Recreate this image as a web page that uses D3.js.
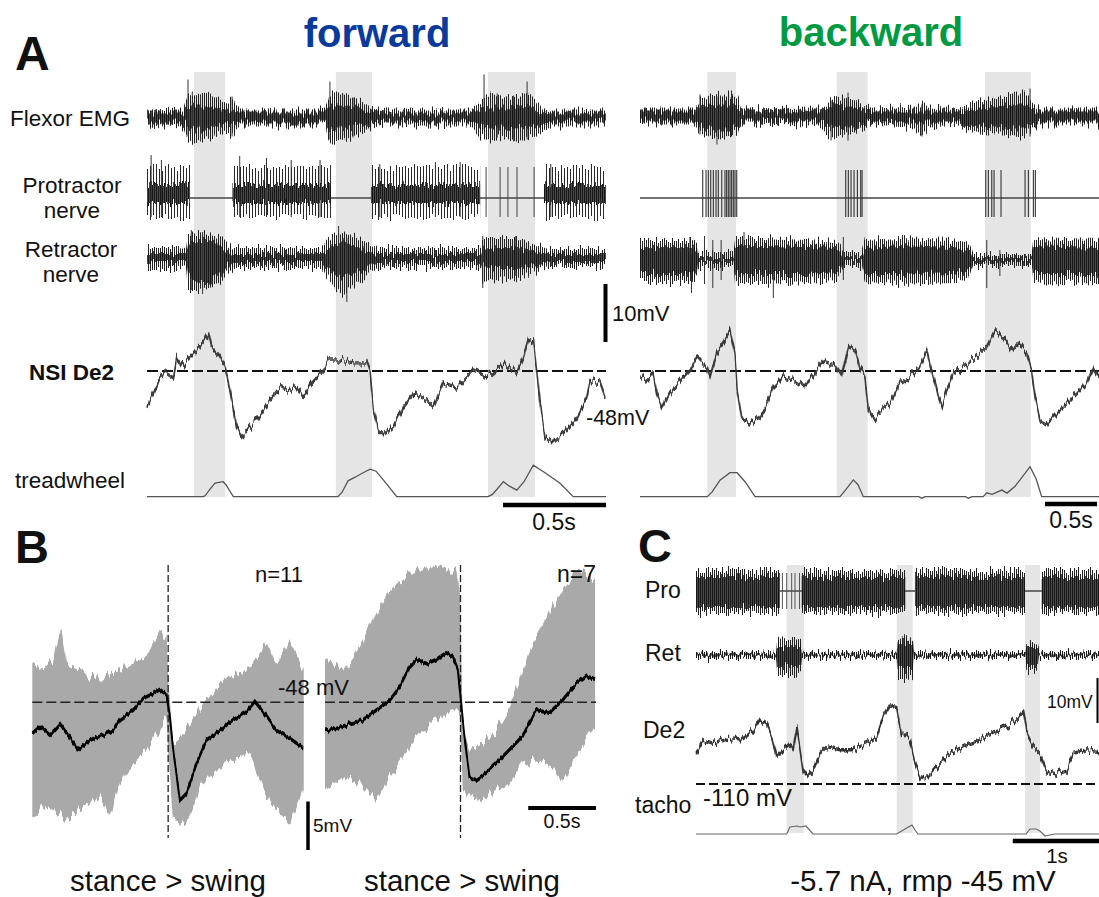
<!DOCTYPE html>
<html><head><meta charset="utf-8">
<script src="https://cdn.jsdelivr.net/npm/d3@7"></script>
<style>body{margin:0;background:#fff}svg{display:block}text{font-family:"Liberation Sans",Arial,sans-serif;fill:#111}</style>
</head><body><svg id="c" width="1099" height="897"></svg>
<script>
// ===== DATA =====
// Panel A, forward (time in s, membrane potential in mV, nerve/EMG envelopes in a.u. [t, up, down])
const fwdStance = [[0.228,0.379],[0.917,1.092],[1.655,1.883]];
const fwdEmgOuter = [[0,4,4],[0.175,4.5,5],[0.199,12,12],[0.233,11,13],[0.282,12,11],[0.330,10,10],[0.379,7,8],[0.413,10,9.5],[0.451,4,4],[0.864,4,4],[0.888,12,14],[0.937,12,12],[1.010,10,10],[1.058,7,7],[1.092,5,5],[1.155,4,4],[1.568,4,4],[1.617,8,10],[1.665,12,11],[1.738,10,10],[1.811,11,12],[1.859,12,10],[1.908,6,7],[1.956,4,4],[2.228,4,4]];
const fwdEmgInner = [[0,2.5,2.5],[0.175,2.5,2.5],[0.199,5,5],[0.233,6,6],[0.282,6,6],[0.330,5,5],[0.379,3.5,3.5],[0.451,2.5,2.5],[0.864,2.5,2.5],[0.888,6,6],[0.937,6,6],[1.010,5,5],[1.092,3,3],[1.155,2,2],[1.568,2,2],[1.617,4,4],[1.665,5,5],[1.738,5,5],[1.811,5.5,5.5],[1.859,6,5],[1.908,3,3],[1.956,2,2],[2.228,2,2]];
const fwdEmgSpikes = [[0.199,19,9.5],[0.22,13,8],[0.26,11,12],[0.413,10.5,9.5],[0.888,18,11],[0.95,12,9],[1.0,10,10],[1.636,21.5,6],[1.70,12,10],[1.78,11,12],[1.845,18,11]];
const fwdProBursts = [[0,0.209],[0.415,0.893],[1.087,1.617],[1.927,2.228]];
const fwdProSparse = [1.646,1.714,1.752,1.796,1.879];
const fwdProTall = [[0.02,21.5],[0.07,19],[0.45,21],[0.58,20],[0.70,19],[0.84,19],[1.13,17],[1.40,18],[1.52,18],[1.96,17]];
const fwdRetOuter = [[0,5.5,6],[0.15,5.5,6],[0.19,5,5],[0.199,12.5,16],[0.25,13,16],[0.30,12,15],[0.35,11,14],[0.388,7,8],[0.42,5,5],[0.85,5,5],[0.898,12,14],[0.95,13,19],[1.01,11,14],[1.083,6,7],[1.12,5,5],[1.62,5,5],[1.626,10,12],[1.70,10,11],[1.80,10,10],[1.898,6,6],[1.95,4.5,4.5],[2.228,4.5,4.5]];
const fwdRetInner = [[0,2,2],[0.19,2,2],[0.199,7,9],[0.25,9,12],[0.30,9,12],[0.35,7,9],[0.388,3,4],[0.42,2,2],[0.85,2,2],[0.898,6,8],[0.95,8,10],[1.01,6,8],[1.083,3,3],[1.12,2,2],[1.62,2,2],[1.626,4,4],[1.70,5,5],[1.80,5,5],[1.898,3,3],[1.95,2,2],[2.228,2,2]];
const fwdRetSpikes = [[0.215,14,16],[0.27,13,18],[0.93,16,12],[0.97,10,22],[1.63,11,15],[1.79,11,9]];
const fwdDe2 = [[0.000,-54.2],[0.031,-51.8],[0.063,-49.0],[0.096,-48.3],[0.128,-49.0],[0.144,-45.6],[0.176,-47.3],[0.209,-45.6],[0.241,-44.4],[0.273,-43.0],[0.298,-41.4],[0.314,-43.9],[0.354,-45.6],[0.379,-47.3],[0.390,-49.0],[0.411,-53.0],[0.435,-57.7],[0.460,-59.6],[0.500,-57.7],[0.549,-55.9],[0.597,-53.0],[0.646,-50.8],[0.678,-51.3],[0.727,-50.8],[0.759,-52.5],[0.808,-49.6],[0.848,-48.3],[0.880,-46.1],[0.937,-46.1],[1.002,-46.6],[1.066,-46.6],[1.083,-48.3],[1.099,-54.7],[1.123,-58.2],[1.147,-59.0],[1.196,-57.7],[1.244,-54.2],[1.293,-51.8],[1.358,-53.0],[1.390,-54.2],[1.439,-50.1],[1.504,-50.8],[1.584,-47.8],[1.649,-49.0],[1.730,-46.6],[1.795,-48.3],[1.827,-45.6],[1.851,-42.7],[1.876,-43.0],[1.892,-47.8],[1.908,-53.5],[1.932,-59.4],[1.965,-60.4],[2.021,-58.7],[2.086,-55.9],[2.135,-52.5],[2.151,-49.6],[2.199,-50.1],[2.223,-52.5]];
const fwdTread = [[0,0],[0.272,0],[0.282,0.3],[0.306,2.5],[0.330,4.5],[0.370,5.0],[0.383,4],[0.419,0],[0.927,0],[0.947,1.5],[0.976,5.3],[1.010,6.5],[1.049,8],[1.083,9.2],[1.112,8.5],[1.160,4.5],[1.212,0],[1.655,0],[1.675,0.7],[1.699,2.5],[1.730,5],[1.757,3.6],[1.795,2.2],[1.830,5],[1.875,10.5],[1.932,8.0],[2.005,4.5],[2.069,0],[2.228,0]];

// Panel A, backward
const bwdStance = [[0.647,0.923],[1.891,2.189],[3.317,3.757]];
const bwdEmgOuter = [[0,4,4],[0.529,4,4],[0.577,9,9],[0.673,10,10],[0.769,11,11],[0.865,11,10],[0.933,10,8],[0.981,4,4],[1.731,4.5,4.5],[1.798,6,9],[1.875,11,11],[1.971,9,9],[2.067,8,8],[2.183,5,5],[2.260,4,4],[2.644,5,6],[2.712,7,10],[2.788,5,5],[3.077,4,4],[3.125,6,6],[3.269,8,8],[3.413,9,9],[3.510,10,9],[3.606,12,10],[3.702,12,11],[3.769,7,6],[3.846,4,4],[4.413,4,4]];
const bwdEmgInner = [[0,2.5,2.5],[0.529,2.5,2.5],[0.577,5,5],[0.673,6,6],[0.769,6,6],[0.865,6,6],[0.933,5,5],[0.981,2.5,2.5],[1.731,2.5,2.5],[1.798,4,4],[1.875,6,6],[1.971,5,5],[2.067,5,5],[2.183,3,3],[2.260,2.5,2.5],[3.077,2.5,2.5],[3.125,3.5,3.5],[3.269,4.5,4.5],[3.413,5,5],[3.510,5.5,5.5],[3.606,6,6],[3.702,6,6],[3.769,4,4],[3.846,2.5,2.5],[4.413,2.5,2.5]];
const bwdEmgSpikes = [[0.577,11,9],[0.74,10,14],[0.88,13,10],[1.837,8,12],[2.00,12,12],[2.71,6,10],[3.60,12,8],[3.75,14,10]];
const bwdProSpikes = [0.603,0.635,0.657,0.680,0.705,0.731,0.753,0.786,0.817,0.833,0.849,0.865,0.881,0.897,0.913,0.930,1.978,2.003,2.029,2.058,2.090,2.122,2.135,3.324,3.349,3.382,3.404,3.471,3.702,3.734,3.782,3.801];
const bwdRetOuter = [[0,10,11],[0.50,10,11],[0.55,9,10],[0.561,4,4],[0.90,4,4],[0.913,11,12],[1.2,11,12],[1.6,10,11],[1.9,9,10],[1.955,4,4],[2.131,4,4],[2.16,10,11],[2.5,11,12],[3.0,10,11],[3.17,8,8],[3.205,3,3],[3.766,3,3],[3.78,11,12],[4.413,10,11]];
const bwdRetInner = [[0,6,7],[0.50,6,7],[0.55,5,6],[0.561,1,1],[0.90,1,1],[0.913,7,7],[1.2,7,7],[1.6,6.5,7],[1.9,6,6],[1.955,1,1],[2.131,1,1],[2.16,6,7],[2.5,7,7],[3.0,6,6],[3.17,5,5],[3.205,1,1],[3.766,1,1],[3.78,7,7],[4.413,6,7]];
const bwdRetSpikes = [[0.48,11.5,3],[0.495,3,16.5],[0.62,12,12],[0.70,10,14],[0.78,10,10],[1.0,14,8],[1.282,6,19],[1.955,11.5,10],[3.334,10,14],[3.46,5,8]];
const bwdDe2 = [[0,-49.0],[0.064,-49.8],[0.128,-48.4],[0.161,-51.8],[0.209,-54.2],[0.288,-51.8],[0.385,-49.6],[0.481,-47.8],[0.545,-45.5],[0.641,-47.3],[0.673,-49.0],[0.738,-44.9],[0.801,-43.2],[0.865,-40.9],[0.913,-44.9],[0.936,-51.8],[0.978,-56.4],[1.058,-57.0],[1.154,-55.9],[1.218,-53.6],[1.282,-50.7],[1.378,-49.0],[1.474,-49.6],[1.570,-50.7],[1.666,-49.0],[1.763,-46.1],[1.859,-46.7],[1.939,-49.0],[2.003,-43.8],[2.067,-44.4],[2.115,-47.3],[2.163,-49.0],[2.195,-54.7],[2.243,-56.4],[2.339,-54.2],[2.404,-53.6],[2.500,-50.1],[2.596,-49.0],[2.692,-47.3],[2.757,-44.4],[2.788,-46.7],[2.820,-49.0],[2.868,-52.4],[2.901,-54.2],[2.949,-51.3],[3.013,-48.4],[3.109,-47.3],[3.238,-45.5],[3.334,-43.8],[3.413,-40.9],[3.493,-42.1],[3.574,-44.4],[3.654,-43.2],[3.718,-44.9],[3.766,-47.8],[3.798,-52.4],[3.846,-56.4],[3.910,-57.0],[4.007,-55.3],[4.103,-53.6],[4.199,-51.8],[4.296,-50.1],[4.359,-47.3],[4.413,-49.0]];
const bwdTread = [[0,0],[0.647,0],[0.692,1.5],[0.769,5.5],[0.865,8.0],[0.933,8.0],[1.010,5],[1.106,0],[1.923,0],[1.971,2],[2.051,5.6],[2.096,4],[2.147,0],[2.68,0],[2.709,-0.5],[2.74,0],[3.13,0],[3.157,-0.5],[3.192,0],[3.30,0],[3.334,1.3],[3.385,0.8],[3.478,2.2],[3.529,1.2],[3.606,3.5],[3.654,5.6],[3.750,10],[3.808,6],[3.862,0],[4.413,0]];

// Panel B (time relative to stance>swing transition, s; mV)
const bLeftMean = [[-1.000,-51.2],[-0.943,-50.5],[-0.870,-51.4],[-0.796,-50.2],[-0.747,-51.2],[-0.662,-52.9],[-0.576,-51.9],[-0.502,-51.5],[-0.404,-50.9],[-0.355,-49.8],[-0.257,-48.8],[-0.184,-47.6],[-0.110,-47.1],[-0.061,-46.7],[-0.012,-47.2],[0.013,-49.5],[0.037,-52.9],[0.086,-58.1],[0.135,-57.4],[0.209,-54.3],[0.282,-51.9],[0.380,-50.9],[0.478,-49.8],[0.576,-49.0],[0.638,-47.9],[0.699,-49.0],[0.797,-50.9],[0.895,-51.7],[0.993,-52.7]];
const bLeftRange = [[-1.000,-43.9,-60.1],[-0.919,-44.7,-58.6],[-0.846,-43.6,-59.1],[-0.784,-40.5,-59.6],[-0.747,-44.0,-60.1],[-0.625,-45.0,-58.8],[-0.502,-45.7,-57.7],[-0.429,-44.9,-59.8],[-0.355,-44.7,-56.4],[-0.257,-44.0,-54.3],[-0.159,-43.3,-52.9],[-0.061,-40.5,-50.9],[-0.012,-41.6,-49.5],[0.003,-46.4,-53.9],[0.037,-52.2,-60.1],[0.135,-50.9,-60.5],[0.233,-48.5,-57.0],[0.356,-46.7,-55.0],[0.478,-45.0,-53.9],[0.601,-44.7,-53.3],[0.724,-41.9,-57.7],[0.797,-44.0,-59.1],[0.895,-41.6,-60.5],[0.998,-44.7,-57.0]];
const bRightMean = [[-1.000,-50.9],[-0.914,-50.7],[-0.816,-50.2],[-0.718,-49.8],[-0.619,-48.8],[-0.522,-47.8],[-0.449,-46.4],[-0.375,-44.3],[-0.326,-43.6],[-0.252,-44.0],[-0.179,-43.6],[-0.105,-42.9],[-0.057,-43.3],[-0.020,-44.6],[0.005,-48.1],[0.029,-51.5],[0.066,-55.7],[0.115,-56.0],[0.189,-55.3],[0.262,-54.3],[0.360,-52.9],[0.458,-51.5],[0.557,-48.8],[0.654,-49.1],[0.752,-47.8],[0.851,-46.1],[0.924,-45.3],[0.993,-45.6]];
const bRightRange = [[-1.000,-43.3,-57.0],[-0.865,-44.7,-55.7],[-0.743,-42.3,-56.4],[-0.620,-38.8,-58.1],[-0.522,-36.4,-55.7],[-0.424,-35.4,-53.6],[-0.326,-34.0,-51.5],[-0.228,-34.0,-50.2],[-0.130,-34.4,-49.5],[-0.032,-34.4,-48.8],[-0.002,-37.1,-49.5],[0.017,-50.9,-57.0],[0.066,-52.9,-57.7],[0.164,-52.2,-58.1],[0.262,-50.9,-57.0],[0.360,-48.5,-56.4],[0.458,-44.7,-54.3],[0.557,-41.2,-53.9],[0.654,-38.8,-54.3],[0.752,-36.4,-56.4],[0.851,-34.4,-53.6],[0.993,-35.4,-50.5]];

// Panel C
const cStance = [[1.008,1.2],[2.23,2.408],[3.656,3.822]];
const cProBursts = [[0,0.933],[1.174,2.326],[2.433,3.656],[3.841,4.478]];
const cProGapSpikes = [0.96,1.008,1.063,1.1,1.15];
const cRetOuter = [[0,1.5,1.5],[0.89,1.5,1.5],[0.9,7.5,10],[1.0,8,10],[1.1,8,10],[1.17,7,9],[1.18,1.5,1.5],[2.23,1.5,1.5],[2.24,8.5,12.5],[2.33,9,12.5],[2.41,8,11],[2.42,1.5,1.5],[3.66,1.5,1.5],[3.67,6,8.5],[3.74,6,8.5],[3.80,5,7],[3.81,1.5,1.5],[4.478,1.5,1.5]];
const cRetInner = [[0,0.7,0.7],[0.89,0.7,0.7],[0.9,4,5],[1.17,4,5],[1.18,0.7,0.7],[2.23,0.7,0.7],[2.24,6,7],[2.41,6,7],[2.42,0.7,0.7],[3.66,0.7,0.7],[3.67,4,5],[3.80,4,5],[3.81,0.7,0.7],[4.478,0.7,0.7]];
const cDe2 = [[0,-103.2],[0.081,-100.2],[0.192,-101.0],[0.341,-99.8],[0.489,-100.2],[0.637,-98.0],[0.711,-95.4],[0.786,-96.5],[0.841,-99.5],[0.897,-103.9],[0.970,-102.4],[1.044,-101.0],[1.081,-102.4],[1.119,-97.6],[1.156,-102.4],[1.192,-107.6],[1.230,-108.4],[1.303,-106.9],[1.378,-103.2],[1.452,-101.7],[1.600,-102.4],[1.748,-102.4],[1.897,-101.0],[2.008,-99.5],[2.081,-95.0],[2.156,-92.4],[2.230,-92.8],[2.286,-98.7],[2.378,-100.2],[2.414,-103.9],[2.489,-108.4],[2.563,-108.7],[2.674,-106.5],[2.822,-103.2],[3.008,-101.3],[3.156,-100.2],[3.303,-98.7],[3.452,-97.3],[3.563,-95.8],[3.637,-93.9],[3.674,-98.7],[3.748,-101.7],[3.822,-103.2],[3.897,-106.9],[4.008,-107.6],[4.119,-106.9],[4.192,-103.2],[4.341,-102.4],[4.478,-102.8]];
const cTacho = [[0,0],[1.008,0],[1.044,3.5],[1.122,4],[1.156,3.5],[1.222,4],[1.3,0],[2.230,0],[2.322,2.5],[2.4,4.5],[2.433,2],[2.467,0],[3.667,0],[3.711,2.5],[3.778,2.5],[3.822,1.5],[3.878,-1],[3.933,-0.5],[3.989,0],[4.478,0]];

// ===== DRAWING =====
const svg = d3.select('#c');
const defs = svg.append('defs');
function pattern(id, w, col, bg){
  const p = defs.append('pattern').attr('id',id).attr('patternUnits','userSpaceOnUse').attr('width',w).attr('height',10);
  if (bg) p.append('rect').attr('width',w).attr('height',10).attr('fill',bg);
  p.append('rect').attr('width',1).attr('height',10).attr('fill',col);
}
pattern('spk', 2, '#222');
pattern('spk3', 3, '#2a2a2a');
pattern('spkD', 2, '#161616', '#4a4a4a');
// rendering texture: vertical jitter of strokes / band edges (visual noise of raw recordings)
function jitter(id, fx, scale, dil){
  const f = defs.append('filter').attr('id',id).attr('filterUnits','userSpaceOnUse')
    .attr('x',0).attr('y',0).attr('width',1099).attr('height',897)
    .attr('color-interpolation-filters','sRGB');
  f.append('feTurbulence').attr('type','fractalNoise').attr('baseFrequency',fx+' 0.02')
    .attr('numOctaves',1).attr('seed',7).attr('result','n');
  const ct = f.append('feComponentTransfer').attr('in','n').attr('result','n2');
  ct.append('feFuncR').attr('type','linear').attr('slope',0).attr('intercept',0.5);
  f.append('feDisplacementMap').attr('in','SourceGraphic').attr('in2','n2').attr('scale',scale)
    .attr('xChannelSelector','R').attr('yChannelSelector','G').attr('result','d');
  if (dil) f.append('feMorphology').attr('in','d').attr('operator','dilate').attr('radius','0 '+dil);
}
jitter('jBand', 0.6, 18, 0);
jitter('jLine', 0.45, 15, 1);
jitter('jGray', 0.35, 22, 0);
jitter('jMean', 0.5, 6, 0.5);

const GRAYBAND = '#e5e5e5';
const ampScale = d3.scaleLinear().domain([0,10]).range([0,20]); // a.u. -> px
function rowScale(yc){ return d3.scaleLinear().domain([-10,10]).range([yc+ampScale(10), yc-ampScale(10)]); }

function envBand(g, x, y, env, fill){
  g.append('path').datum(env)
    .attr('d', d3.area().x(d=>x(d[0])).y0(d=>y(-d[2])).y1(d=>y(d[1])))
    .attr('fill', fill);
}
function spikeLines(g, x, y, arr, col, w){
  g.selectAll(null).data(arr).enter().append('line')
    .attr('x1',d=>x(d[0])).attr('x2',d=>x(d[0]))
    .attr('y1',d=>y(d[1])).attr('y2',d=>y(-d[2]))
    .attr('stroke',col).attr('stroke-width',w||1);
}
function hline(g, x0, x1, y, col, w){
  return g.append('line').attr('x1',x0).attr('x2',x1).attr('y1',y).attr('y2',y).attr('stroke',col).attr('stroke-width',w);
}
function txt(x, y, s, size, opts){
  opts = opts || {};
  const t = svg.append('text').attr('x',x).attr('y',y).text(s).attr('font-size',size);
  if (opts.anchor) t.attr('text-anchor',opts.anchor);
  if (opts.bold) t.attr('font-weight','bold');
  if (opts.fill) t.style('fill',opts.fill);
  return t;
}
function vtrace(g, x, y, data, col){
  g.append('path').datum(data)
    .attr('d', d3.line().x(d=>x(d[0])).y(d=>y(d[1])))
    .attr('fill','none').attr('stroke',col).attr('stroke-width',1.4)
    .attr('filter','url(#jLine)');
}

// ---------- Panel A ----------
const yA = d3.scaleLinear().domain([-48,-38]).range([371,313]);
const yTread = d3.scaleLinear().domain([0,10]).range([496.7,466.7]);
const rowEmg = rowScale(117.5), rowPro = rowScale(198), rowRet = rowScale(258);
const rowEmgB = rowScale(116.5), rowProB = rowScale(198), rowRetB = rowScale(260);

function panelA(x, stance, opts){
  const g = svg.append('g');
  g.selectAll(null).data(stance).enter().append('rect')
    .attr('x',d=>x(d[0])).attr('width',d=>x(d[1])-x(d[0]))
    .attr('y',72).attr('height',425).attr('fill',GRAYBAND);
  const [t0,t1] = x.domain();
  const ge = g.append('g').attr('filter','url(#jBand)');
  hline(ge, x(t0), x(t1), opts.rowEmg(0), '#333', 1);
  envBand(ge, x, opts.rowEmg, opts.emgOuter, 'url(#spk)');
  envBand(ge, x, opts.rowEmg, opts.emgInner, 'url(#spkD)');
  spikeLines(g, x, opts.rowEmg, opts.emgSpikes, '#333', 1);
  hline(g, x(t0), x(t1), opts.rowPro(0), '#444', 1.4);
  opts.proDraw(g);
  const gr = g.append('g').attr('filter','url(#jBand)');
  hline(gr, x(t0), x(t1), opts.rowRet(0), '#333', 1);
  envBand(gr, x, opts.rowRet, opts.retOuter, 'url(#spk)');
  envBand(gr, x, opts.rowRet, opts.retInner, 'url(#spkD)');
  spikeLines(g, x, opts.rowRet, opts.retSpikes, '#333', 1);
  g.append('line').attr('x1',x(t0)).attr('x2',x(t1)).attr('y1',yA(-48)).attr('y2',yA(-48))
    .attr('stroke','#111').attr('stroke-width',2).attr('stroke-dasharray','11,4');
  vtrace(g, x, yA, opts.de2, '#3a3a3a');
  g.append('path').datum(opts.tread)
    .attr('d', d3.line().x(d=>x(d[0])).y(d=>yTread(d[1])))
    .attr('fill','none').attr('stroke','#555').attr('stroke-width',1.3);
  return g;
}
const xF = d3.scaleLinear().domain([0,2.228]).range([147,606]);
const xB = d3.scaleLinear().domain([0,4.413]).range([640,1099]);

panelA(xF, fwdStance, {
  rowEmg: rowEmg, rowPro: rowPro, rowRet: rowRet,
  emgOuter: fwdEmgOuter, emgInner: fwdEmgInner, emgSpikes: fwdEmgSpikes,
  retOuter: fwdRetOuter, retInner: fwdRetInner, retSpikes: fwdRetSpikes,
  de2: fwdDe2, tread: fwdTread,
  proDraw: g => {
    const gp = g.append('g').attr('filter','url(#jBand)');
    gp.selectAll(null).data(fwdProBursts).enter().append('rect')
      .attr('x',d=>xF(d[0])).attr('width',d=>xF(d[1])-xF(d[0]))
      .attr('y',rowPro(15.5)).attr('height',rowPro(-9.5)-rowPro(15.5)).attr('fill','url(#spk3)');
    gp.selectAll(null).data(fwdProBursts).enter().append('rect')
      .attr('x',d=>xF(d[0])).attr('width',d=>xF(d[1])-xF(d[0]))
      .attr('y',rowPro(6.5)).attr('height',rowPro(-2.5)-rowPro(6.5)).attr('fill','url(#spkD)');
    spikeLines(g, xF, rowPro, fwdProSparse.map(t=>[t,15.5,9.5]), '#444', 1);
    spikeLines(g, xF, rowPro, fwdProTall.map(d=>[d[0],d[1],9.5]), '#333', 1);
  }
});
panelA(xB, bwdStance, {
  rowEmg: rowEmgB, rowPro: rowProB, rowRet: rowRetB,
  emgOuter: bwdEmgOuter, emgInner: bwdEmgInner, emgSpikes: bwdEmgSpikes,
  retOuter: bwdRetOuter, retInner: bwdRetInner, retSpikes: bwdRetSpikes,
  de2: bwdDe2, tread: bwdTread,
  proDraw: g => {
    spikeLines(g, xB, rowProB, bwdProSpikes.map(t=>[t,14,9.5]), '#333', 1.1);
  }
});

// Scale bars A
svg.append('line').attr('x1',605.5).attr('x2',605.5).attr('y1',342).attr('y2',342-(yA(-48)-yA(-38)))
  .attr('stroke','#000').attr('stroke-width',4);
svg.append('line').attr('x1',606-(xF(0.5)-xF(0))).attr('x2',606).attr('y1',505).attr('y2',505).attr('stroke','#000').attr('stroke-width',4.5);
svg.append('line').attr('x1',1097-(xB(0.5)-xB(0))).attr('x2',1097).attr('y1',504).attr('y2',504).attr('stroke','#000').attr('stroke-width',4.5);

// Text A
txt(15, 70, 'A', 48, {bold:true});
txt(377, 47, 'forward', 40, {bold:true, anchor:'middle', fill:'#0a3a9c'});
txt(871, 46, 'backward', 40, {bold:true, anchor:'middle', fill:'#009a44'});
txt(10, 126, 'Flexor EMG', 22.5);
txt(72, 193, 'Protractor', 22.5, {anchor:'middle'});
txt(72, 218, 'nerve', 22.5, {anchor:'middle'});
txt(71, 257, 'Retractor', 22.5, {anchor:'middle'});
txt(71, 282, 'nerve', 22.5, {anchor:'middle'});
txt(29, 380, 'NSI De2', 22.5, {bold:true});
txt(15, 488, 'treadwheel', 22.5);
txt(612, 321, '10mV', 22);
txt(586, 425, '-48mV', 21.5);
txt(554, 530, '0.5s', 23, {anchor:'middle'});
txt(1071, 528, '0.5s', 23, {anchor:'middle'});

// ---------- Panel B ----------
const yBm = d3.scaleLinear().domain([-48,-43]).range([702.3,653.8]);
const xBL = d3.scaleLinear().domain([-1,1]).range([32.3,304]);
const xBR = d3.scaleLinear().domain([-1,1]).range([325,596]);
function panelB(x, range, mean){
  const g = svg.append('g');
  g.append('path').datum(range)
    .attr('d', d3.area().x(d=>x(d[0])).y0(d=>yBm(d[2])).y1(d=>yBm(d[1])))
    .attr('fill','#a9a9a9').attr('filter','url(#jGray)');
  g.append('line').attr('x1',x(-1)).attr('x2',x(1)).attr('y1',yBm(-48)).attr('y2',yBm(-48))
    .attr('stroke','#222').attr('stroke-width',1.5).attr('stroke-dasharray','10,4');
  g.append('line').attr('x1',x(0)).attr('x2',x(0)).attr('y1',565).attr('y2',838)
    .attr('stroke','#222').attr('stroke-width',1.3).attr('stroke-dasharray','7,3');
  g.append('path').datum(mean)
    .attr('d', d3.line().x(d=>x(d[0])).y(d=>yBm(d[1])))
    .attr('fill','none').attr('stroke','#000').attr('stroke-width',1.8).attr('filter','url(#jMean)');
}
panelB(xBL, bLeftRange, bLeftMean);
panelB(xBR, bRightRange, bRightMean);
svg.append('line').attr('x1',308).attr('x2',308).attr('y1',850).attr('y2',850-(yBm(-48)-yBm(-43)))
  .attr('stroke','#000').attr('stroke-width',3.5);
svg.append('line').attr('x1',596-(xBR(-0.5)-xBR(-1))).attr('x2',596).attr('y1',808).attr('y2',808)
  .attr('stroke','#000').attr('stroke-width',4);
txt(15, 563, 'B', 47, {bold:true});
txt(255, 582, 'n=11', 22);
txt(557, 582, 'n=7', 23);
txt(278, 695, '-48 mV', 22);
txt(313, 832, '5mV', 19);
txt(562, 828, '0.5s', 19.5, {anchor:'middle'});
txt(168, 891, 'stance > swing', 29.5, {anchor:'middle'});
txt(462, 891, 'stance > swing', 29.5, {anchor:'middle'});

// ---------- Panel C ----------
const xC = d3.scaleLinear().domain([0,4.478]).range([696,1099]);
const yC = d3.scaleLinear().domain([-110,-100]).range([784,739]);
const rowProC = rowScale(591), rowRetC = rowScale(655);
const yTacho = d3.scaleLinear().domain([0,10]).range([834,814]);
const gC = svg.append('g');
gC.selectAll(null).data(cStance).enter().append('rect')
  .attr('x',d=>xC(d[0])).attr('width',d=>xC(d[1])-xC(d[0]))
  .attr('y',565).attr('height',268).attr('fill',GRAYBAND);
hline(gC, xC(0), xC(4.478), rowProC(0), '#444', 1.4);
const gCp = gC.append('g').attr('filter','url(#jBand)');
gCp.selectAll(null).data(cProBursts).enter().append('rect')
  .attr('x',d=>xC(d[0])).attr('width',d=>xC(d[1])-xC(d[0]))
  .attr('y',rowProC(10.5)).attr('height',rowProC(-11)-rowProC(10.5)).attr('fill','url(#spk)');
gCp.selectAll(null).data(cProBursts).enter().append('rect')
  .attr('x',d=>xC(d[0])).attr('width',d=>xC(d[1])-xC(d[0]))
  .attr('y',rowProC(7)).attr('height',rowProC(-8)-rowProC(7)).attr('fill','url(#spkD)');
spikeLines(gC, xC, rowProC, cProGapSpikes.map(t=>[t,9,9]), '#555', 1);
const gCr = gC.append('g').attr('filter','url(#jBand)');
hline(gCr, xC(0), xC(4.478), rowRetC(0), '#444', 1.2);
envBand(gCr, xC, rowRetC, cRetOuter, 'url(#spk)');
envBand(gCr, xC, rowRetC, cRetInner, 'url(#spkD)');
gC.append('line').attr('x1',xC(0)).attr('x2',xC(4.478)).attr('y1',yC(-110)).attr('y2',yC(-110))
  .attr('stroke','#111').attr('stroke-width',1.8).attr('stroke-dasharray','9,4');
vtrace(gC, xC, yC, cDe2, '#333');
gC.append('path').datum(cTacho)
  .attr('d', d3.line().x(d=>xC(d[0])).y(d=>yTacho(d[1])))
  .attr('fill','none').attr('stroke','#666').attr('stroke-width',1.2);
svg.append('line').attr('x1',1097.5).attr('x2',1097.5).attr('y1',723).attr('y2',723-(yC(-110)-yC(-100)))
  .attr('stroke','#000').attr('stroke-width',2);
svg.append('line').attr('x1',xC(3.52)).attr('x2',xC(3.52)+(xC(1)-xC(0))).attr('y1',841).attr('y2',841)
  .attr('stroke','#000').attr('stroke-width',4.5);
txt(638, 562, 'C', 47, {bold:true});
txt(645, 598, 'Pro', 23);
txt(645, 661, 'Ret', 23);
txt(643, 738, 'De2', 23);
txt(635, 813, 'tacho', 23);
txt(703, 806, '-110 mV', 24);
txt(1047, 708, '10mV', 17.5);
txt(1057, 863, '1s', 20.5, {anchor:'middle'});
txt(923, 891, '-5.7 nA, rmp -45 mV', 29.5, {anchor:'middle'});
</script></body></html>
